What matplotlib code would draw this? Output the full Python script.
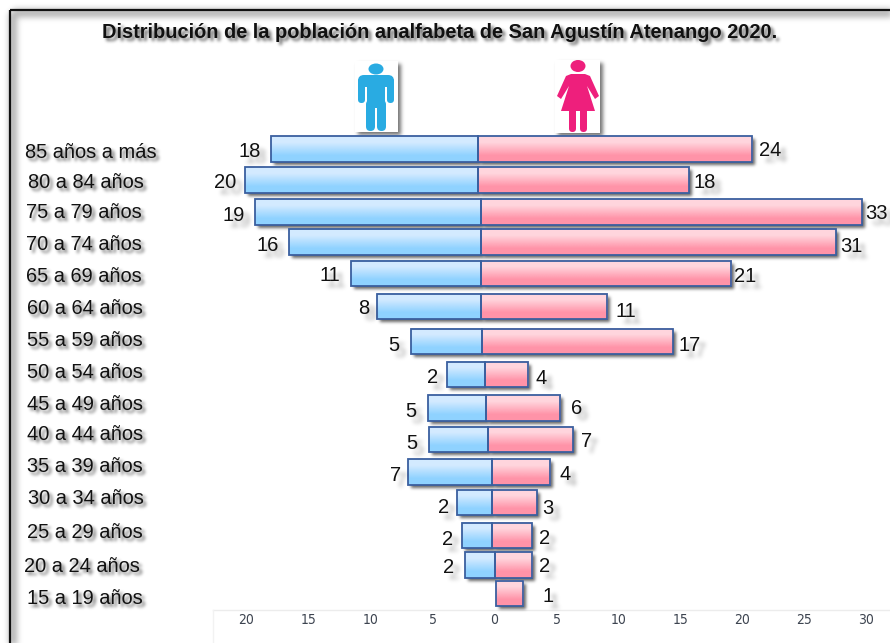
import numpy as np
import matplotlib
matplotlib.use("Agg")
import matplotlib.pyplot as plt
from matplotlib.colors import LinearSegmentedColormap
from matplotlib.patches import Rectangle, Polygon, Ellipse, FancyBboxPatch

plt.rcParams['font.family'] = ['Liberation Sans', 'DejaVu Sans']

W, H = 890, 643

age_groups = ["85 años a más", "80 a 84 años", "75 a 79 años", "70 a 74 años", "65 a 69 años",
              "60 a 64 años", "55 a 59 años", "50 a 54 años", "45 a 49 años", "40 a 44 años",
              "35 a 39 años", "30 a 34 años", "25 a 29 años", "20 a 24 años", "15 a 19 años"]
# printed values
hombres = [18, 20, 19, 16, 11, 8, 5, 2, 5, 5, 7, 2, 2, 2, 0]
mujeres = [24, 18, 33, 31, 21, 11, 17, 4, 6, 7, 4, 3, 2, 2, 1]
# the bars do not follow the printed values, lengths
largo_hombres = [16.7, 18.8, 18.2, 15.5, 10.5, 8.4, 5.7, 3.0, 4.7, 4.8, 6.8, 2.8, 2.4, 2.4, 0]
largo_mujeres = [22.1, 17.0, 30.7, 28.6, 20.2, 10.2, 15.4, 3.5, 6.0, 6.8, 4.7, 3.6, 3.2, 3.0, 2.2]
# the centre line of the pyramid drifts from row to row
centro = [-1.3, -1.3, -1.1, -1.1, -1.1, -1.1, -1.0, -0.8, -0.7, -0.5, -0.2, -0.2, -0.2, 0.0, 0.1]
filas = [0, 0.98, 1.98, 2.93, 3.92, 4.96, 6.06, 7.10, 8.16, 9.15, 10.17, 11.13, 12.17, 13.10, 14.0]
ticks = [-20, -15, -10, -5, 0, 5, 10, 15, 20, 25, 30]


def blur(sigma, alpha, shift):
    """agg filter: black gaussian shadow moved down and right"""
    r = int(3 * sigma)
    k = np.exp(-0.5 * (np.arange(-r, r + 1) / sigma) ** 2)
    k = k / k.sum()

    def process(im, dpi):
        pad = r + shift
        a = np.pad(im[:, :, 3], pad)
        a = np.roll(np.roll(a, shift, axis=0), shift, axis=1)
        a = sum(w * np.roll(a, j - r, axis=0) for j, w in enumerate(k))
        a = sum(w * np.roll(a, j - r, axis=1) for j, w in enumerate(k))
        out = np.zeros(a.shape + (4,))
        out[:, :, 3] = a * alpha
        return out, -pad, -pad

    return process


def with_shadow(draw, *args, **kw):
    shadow_kw = dict(kw, color='k', zorder=kw.get('zorder', 3) - 0.5)
    draw(*args, **shadow_kw).set_agg_filter(blur(1.6, 0.6, 3))
    return draw(*args, **kw)


fig = plt.figure(figsize=(W / 100, H / 100), dpi=100)

# pixel layer for frame and pictograms
px = fig.add_axes([0, 0, 1, 1])
px.set_xlim(0, W)
px.set_ylim(H, 0)
px.axis('off')

frame_shadow = Rectangle((11, 11), W + 40, H + 40, fill=False, ec='k', lw=6, clip_on=False)
frame_shadow.set_agg_filter(blur(3, 0.3, 2))
px.add_patch(frame_shadow)
px.add_patch(Rectangle((10, 10), W + 40, H + 40, fill=False, ec='#111111', lw=1.6))

# axis strip
px.plot([213, W], [610, 610], color='#ececec', lw=1)
px.plot([213, 213], [610, H], color='#f2f2f2', lw=1)


def soft_box(x0, y0, x1, y1):
    s = Rectangle((x0, y0), x1 - x0, y1 - y0, fc='k', ec='none')
    s.set_agg_filter(blur(2, 0.55, 3))
    px.add_patch(s)
    px.add_patch(Rectangle((x0, y0), x1 - x0, y1 - y0, fc='white', ec='none'))


def capsule(x0, y0, x1, y1, color):
    r = min(x1 - x0, y1 - y0) / 2
    px.add_patch(FancyBboxPatch((x0 + r, y0 + r), x1 - x0 - 2 * r, y1 - y0 - 2 * r,
                                boxstyle=f"round,pad={r}", fc=color, ec='none'))


# hombre
azul = '#29abe2'
soft_box(355, 61, 398, 132)
px.add_patch(Ellipse((376, 69), 15, 11, fc=azul, ec='none'))
capsule(358, 75, 394, 87, azul)
px.add_patch(Rectangle((367, 80), 18, 28, fc=azul, ec='none'))
capsule(358, 78, 365, 103, azul)
capsule(387, 78, 394, 103, azul)
capsule(366, 100, 375, 131, azul)
capsule(377, 100, 386, 131, azul)

# mujer
rosa = '#ee1f7c'
soft_box(555, 60, 600, 133)
px.add_patch(Ellipse((578, 66), 15, 12, fc=rosa, ec='none'))
px.add_patch(Polygon([(571, 74), (585, 74), (590, 76), (599, 96), (595, 99), (587, 86),
                      (595, 111), (561, 111), (569, 86), (561, 99), (557, 96), (566, 76)],
                     fc=rosa, ec='none'))
capsule(569, 108, 576, 132, rosa)
capsule(580, 108, 587, 132, rosa)

# plot axes, 12.4 px per unit with 0 at x=494.5 and row spacing of 31.75 px
ax = fig.add_axes([0, 0, 1, 1], facecolor='none')
ax.set_xlim(-494.5 / 12.4, (W - 494.5) / 12.4)
ax.set_ylim((H - 149) / 31.75, -149 / 31.75)
ax.axis('off')

grad = np.array([[0.0], [1.0]])
cmap_h = LinearSegmentedColormap.from_list('h', ['#d3eaff', '#8fd2ff'])
cmap_m = LinearSegmentedColormap.from_list('m', ['#ffd5dd', '#ff93a8'])
alto = 0.8
borde = '#3a5f9f'


def draw_bar(x0, x1, y, cmap):
    left = min(x0, x1)
    width = abs(x1 - x0)
    s = ax.barh(y, width, alto, left=left, color='k', lw=0, zorder=2)[0]
    s.set_agg_filter(blur(1.6, 0.6, 3))
    ax.imshow(grad, extent=(left, left + width, y + alto / 2, y - alto / 2), cmap=cmap,
              vmin=0, vmax=1, aspect='auto', zorder=3, interpolation='bilinear')
    ax.barh(y, width, alto, left=left, fc='none', ec=borde, lw=1.3, zorder=4)


# label gaps in px from the bar end, and vertical nudge
pad_h = [22, 20, 21, 21, 21, 13, 18, 15, 17, 17, 12, 14, 15, 16, 0]
pad_m = [18, 16, 15, 16, 14, 19, 17, 13, 16, 14, 15, 11, 13, 13, 25]
dy_h = [1, 1, 2.5, 2, 0.5, 0.5, 2.5, 1.5, 2, 2.5, 2, 3.5, 2.5, 1, 0]
dy_m = [0, 1, 0.5, 3, 1.5, 3.5, 2.5, 2.5, -1, 0.5, 1, 4.5, 1.5, 0, 1.5]
# age label left edge and centre
age_x = [25, 28, 26, 26, 26, 27, 27, 27, 27, 27, 27, 28, 27, 24, 27]
age_y = [153, 182, 213, 245, 277, 309, 340, 373, 404, 434, 466, 498, 532, 567, 599]

label_kw = dict(textcoords='offset points', ha='center', va='center', fontsize=14.5, zorder=6)

for i, y in enumerate(filas):
    c = centro[i]
    if largo_hombres[i] > 0:
        draw_bar(c - largo_hombres[i], c, y, cmap_h)
        with_shadow(ax.annotate, str(hombres[i]), (c - largo_hombres[i], y),
                    xytext=(-pad_h[i] * 0.72, -(dy_h[i] + 1.5) * 0.72), **dict(label_kw, color='#111111'))
    draw_bar(c, c + largo_mujeres[i], y, cmap_m)
    with_shadow(ax.annotate, str(mujeres[i]), (c + largo_mujeres[i], y),
                xytext=(pad_m[i] * 0.72, -(dy_m[i] + 1.5) * 0.72), **dict(label_kw, color='#111111'))
    with_shadow(px.text, age_x[i], age_y[i], age_groups[i], ha='left', va='center', fontsize=14.4,
                color='#111111')

# tick labels, absolute values
tick_y = (620.5 - 149) / 31.75
for t in ticks:
    ax.text(t, tick_y, str(abs(t)), ha='center', va='center', fontsize=10,
            color='#3d4450', fontfamily='DejaVu Sans', stretch='condensed', zorder=6)

with_shadow(px.text, 439.5, 32, "Distribución de la población analfabeta de San Agustín Atenango 2020.",
            ha='center', va='center', fontsize=14.45, fontweight='bold', color='#111111')

fig.savefig('out.png', dpi=100)
